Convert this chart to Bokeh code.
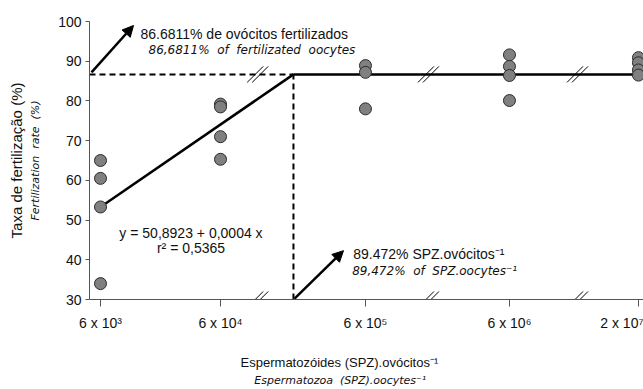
import numpy as np
from bokeh.plotting import figure
from bokeh.models import (Range1d, FixedTicker, Label, Arrow, NormalHead, ColumnDataSource,
                          LinearAxis)
from bokeh.embed import file_html
from bokeh.resources import INLINE

# ---------------- data ----------------
dose_labels = ["6 x 10³", "6 x 10⁴", "6 x 10⁵", "6 x 10⁶", "2 x 10⁷"]
dose_values = [6e3, 6e4, 6e5, 6e6, 2e7]
rate_6e3 = [65.0, 60.5, 53.3, 34.0]
rate_6e4 = [79.2, 78.5, 71.0, 65.3]
rate_6e5 = [88.9, 87.2, 78.0]
rate_6e6 = [91.6, 88.7, 86.4, 80.1]
rate_2e7 = [90.9, 89.6, 87.8, 86.5]
rates = [rate_6e3, rate_6e4, rate_6e5, rate_6e6, rate_2e7]
intercept = 50.8923
slope = 0.0004
plateau = 86.6811
breakpoint_spz = 89472
r_squared = "0,5365"
y_ticks = [30, 40, 50, 60, 70, 80, 90, 100]

# ---------------- layout (broken axis positions) ----------------
X_POS = [0.0, 1.0, 2.208, 3.408, 4.483]
BP_POS = 1.608
BREAKS = [1.31, 2.733, 3.975]
X0, X1 = -0.0917, 4.525
Y0, Y1 = 30, 100
PX = 1 / 120.0      # data units per pixel (x)
PY = 1 / 3.971      # data units per pixel (y)

FONT = "Liberation Sans"
IFONT = "DejaVu Sans"
SP = "\u00a0 "      # wide gap for letter-spaced italic texts
PAD = "\u00a0" * 15 # shifts centred x titles left of the frame centre

p = figure(width=643, height=389, output_backend="svg", toolbar_location=None,
           x_range=Range1d(X0, X1), y_range=Range1d(Y0, Y1),
           min_border_left=89, min_border_right=0, min_border_top=21, min_border_bottom=90)
p.outline_line_color = None
p.xgrid.visible = False
p.ygrid.visible = False
p.background_fill_color = "white"
p.border_fill_color = "white"

for ax in (p.xaxis[0], p.yaxis[0]):
    ax.axis_line_color = "#555555"
    ax.major_tick_line_color = "#555555"
    ax.minor_tick_line_color = None
    ax.major_tick_in = 0
    ax.major_label_text_font = FONT
    ax.major_label_text_font_size = "14px"
    ax.major_label_text_color = "#111111"

p.xaxis.ticker = FixedTicker(ticks=X_POS)
p.xaxis.major_label_overrides = {x: lab for x, lab in zip(X_POS, dose_labels)}
p.xaxis.major_tick_out = 7
p.xaxis.major_label_standoff = 8
p.xaxis.axis_label = "Espermatozóides (SPZ).ovócitos⁻¹" + PAD
p.xaxis.axis_label_text_font = FONT
p.xaxis.axis_label_text_font_size = "13px"
p.xaxis.axis_label_text_font_style = "normal"
p.xaxis.axis_label_text_color = "#111111"
p.xaxis.axis_label_standoff = 21

p.yaxis.ticker = FixedTicker(ticks=y_ticks)
p.yaxis.major_tick_out = 4
p.yaxis.major_label_standoff = 4
p.yaxis.axis_label = f"Fertilization{SP}rate{SP}(%)"
p.yaxis.axis_label_text_font = IFONT
p.yaxis.axis_label_text_font_size = "11px"
p.yaxis.axis_label_text_font_style = "italic"
p.yaxis.axis_label_text_color = "#111111"
p.yaxis.axis_label_standoff = 13


def title_axis(text, font, size, style, standoff):
    ax = LinearAxis(ticker=FixedTicker(ticks=[]), axis_line_color=None,
                    major_tick_out=0, major_tick_in=0, minor_tick_out=0, minor_tick_in=0,
                    major_label_standoff=0, major_label_text_font_size="1px",
                    axis_label=text, axis_label_text_font=font, axis_label_text_font_size=size,
                    axis_label_text_font_style=style, axis_label_text_color="#111111",
                    axis_label_standoff=standoff)
    return ax


p.add_layout(title_axis(f"Espermatozoa{SP}(SPZ).oocytes⁻¹" + PAD, IFONT, "11px", "italic", 1), "below")
p.add_layout(title_axis("Taxa de fertilização (%)", FONT, "15px", "normal", 2), "left")

# fitted lines
y_start = intercept + slope * dose_values[0]
y_bp = intercept + slope * breakpoint_spz
p.line([X_POS[0], BP_POS], [y_start, y_bp], line_color="black", line_width=2.5)
p.line([BP_POS, X1], [plateau, plateau], line_color="black", line_width=2.5)
p.line([X0, BP_POS], [plateau, plateau], line_color="black", line_width=2, line_dash="6 4")
p.line([BP_POS, BP_POS], [Y0, plateau], line_color="black", line_width=2, line_dash="6 4")

# break marks on axis and on line
bx0, by0, bx1, by1 = [], [], [], []
for bx in BREAKS:
    for yy in (Y0, plateau):
        for k in (-2.5, 2.5):
            bx0.append(bx + (-8 + k) * PX); by0.append(yy - 8 * PY)
            bx1.append(bx + (8 + k) * PX); by1.append(yy + 8 * PY)
p.segment(bx0, by0, bx1, by1, line_color="black", line_width=1)

# points
xs, ys = [], []
for pos, grp in zip(X_POS, rates):
    xs += [pos] * len(grp)
    ys += grp
src = ColumnDataSource(dict(x=xs, y=ys))
p.scatter("x", "y", source=src, size=12, fill_color="#808080", line_color="#2a2a2a", line_width=1)

# arrows
p.add_layout(Arrow(end=NormalHead(size=11, fill_color="black", line_color="black"),
                   x_start=X0 + 2 * PX, y_start=87.2, x_end=0.275, y_end=99.0,
                   line_width=2.5, line_color="black"))
p.add_layout(Arrow(end=NormalHead(size=11, fill_color="black", line_color="black"),
                   x_start=1.617, y_start=30.2, x_end=2.025, y_end=42.3,
                   line_width=2.5, line_color="black"))

def lab(x, y, text, size, font=FONT, style="normal", align="left", baseline="alphabetic"):
    p.add_layout(Label(x=x, y=y, text=text, text_font=font, text_font_size=size,
                       text_font_style=style, text_align=align, text_baseline=baseline,
                       text_color="#111111"))

lab(0.333, 96.85, f"{plateau:.4f}% de ovócitos fertilizados", "14px")
lab(0.40, 92.8, f"{plateau:.4f}%{SP}of{SP}fertilizated{SP}oocytes".replace(".", ","), "12px", IFONT, "italic")
lab(2.106, 41.56, "89.472% SPZ.ovócitos⁻¹", "14px")
lab(2.097, 37.3, f"89,472%{SP}of{SP}SPZ.oocytes⁻¹", "12px", IFONT, "italic")
lab(0.754, 46.85, "y = 50,8923 + 0,0004 x", "14px", align="center")
lab(0.754, 42.95, f"r² = {r_squared}", "14px", align="center")

open("out.html", "w").write(file_html(p, INLINE))
